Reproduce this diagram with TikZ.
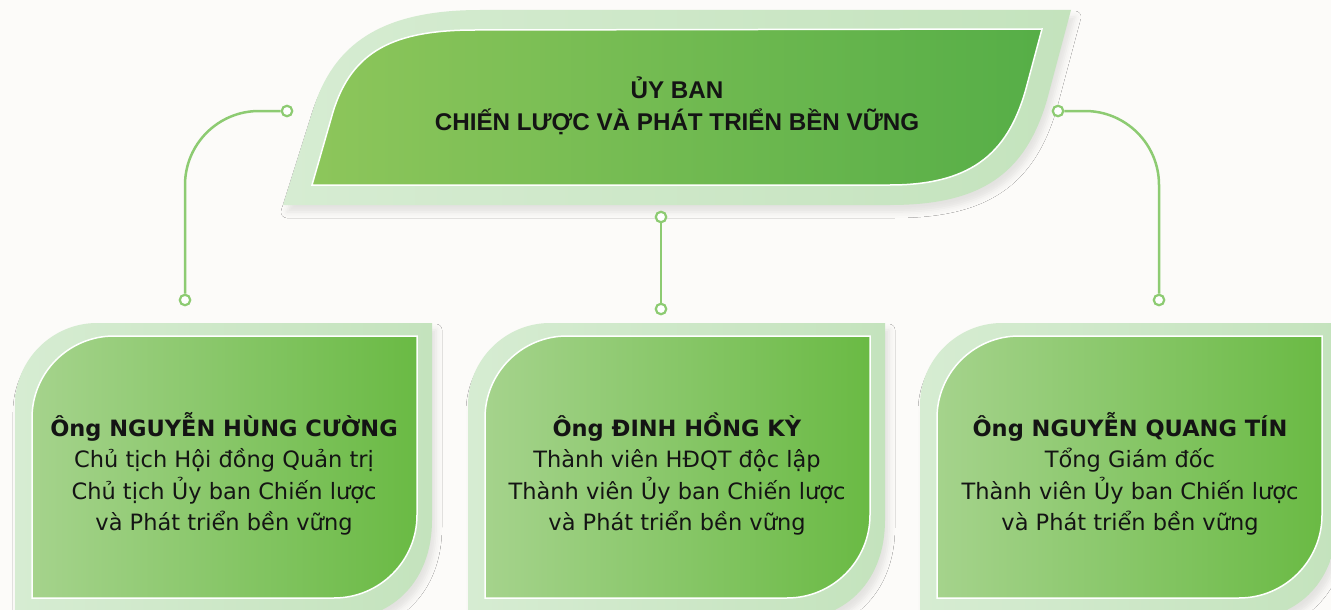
\documentclass[tikz,border=0pt]{standalone}
\usepackage{fontspec}
\setmainfont{DejaVu Sans}
\newfontfamily\titlefont{Liberation Sans}
\usetikzlibrary{shadows.blur}
\definecolor{bg}{HTML}{FCFBF9}
\definecolor{outerL}{HTML}{D6ECD2}
\definecolor{outerR}{HTML}{C4E3BD}
\definecolor{topL}{HTML}{8DC65B}
\definecolor{topR}{HTML}{56AE47}
\definecolor{boxL}{HTML}{A5D38C}
\definecolor{boxR}{HTML}{6ABA44}
\definecolor{conn}{HTML}{8DCB72}
\definecolor{ink}{HTML}{141414}
\tikzset{
  outershape/.style={left color=outerL, right color=outerR,
    blur shadow={shadow xshift=4pt, shadow yshift=-7pt, shadow blur radius=6pt, shadow opacity=10}},
  topinner/.style={left color=topL, right color=topR, draw=white, line width=1.5pt},
  boxinner/.style={left color=boxL, right color=boxR, draw=white, line width=1.5pt},
  dot/.style={circle, draw=conn, fill=white, line width=2.2pt, minimum size=10.5pt, inner sep=0pt},
  connline/.style={draw=conn, line width=2.5pt},
  titletext/.style={align=center, text=ink, font=\titlefont\bfseries\fontsize{24.2}{32}\selectfont},
  boxtext/.style={align=center, text=ink, font=\fontsize{22.5}{31.5}\selectfont}
}
\begin{document}
\begin{tikzpicture}[x=1pt,y=-1pt]
\useasboundingbox (0,0) rectangle (1331,610);
\fill[bg] (0,0) rectangle (1331,610);

% top shape
\path[outershape] (283,205) -- (313,110) .. controls (333,45) and (380,10) .. (480,10)
  -- (1071,10) -- (1047,100) .. controls (1025,175) and (980,205) .. (890,205) -- cycle;
\path[topinner] (312,185) -- (333,112) .. controls (352,50) and (395,30) .. (475,30)
  -- (1042,29) -- (1027,85) .. controls (1010,150) and (975,185) .. (890,185) -- cycle;
\node[titletext] (t) at (677,106) {ỦY BAN\\CHIẾN LƯỢC VÀ PHÁT TRIỂN BỀN VỮNG};

% bottom boxes
\foreach \s in {0,453,905} {
  \begin{scope}[shift={(\s,0)}]
  \path[outershape] (15,620) -- (15,405) .. controls (15,360) and (52,323) .. (97,323)
    -- (432,323) -- (432,520) .. controls (432,575) and (400,615) .. (345,620) -- cycle;
  \path[boxinner] (32,598) -- (32,418) .. controls (32,372.7) and (68.7,336) .. (114,336)
    -- (417,336) -- (417,515) .. controls (417,560.8) and (379.8,598) .. (334,598) -- cycle;
  \end{scope}
}
\node[boxtext] (b1) at (224,474) {\textbf{Ông NGUYỄN HÙNG CƯỜNG}\\Chủ tịch Hội đồng Quản trị\\Chủ tịch Ủy ban Chiến lược\\và Phát triển bền vững};
\node[boxtext] (b2) at (677,474) {\textbf{Ông ĐINH HỒNG KỲ}\\Thành viên HĐQT độc lập\\Thành viên Ủy ban Chiến lược\\và Phát triển bền vững};
\node[boxtext] (b3) at (1130,474) {\textbf{Ông NGUYỄN QUANG TÍN}\\Tổng Giám đốc\\Thành viên Ủy ban Chiến lược\\và Phát triển bền vững};

% connectors
\node[dot] (l1) at (287,111) {};
\node[dot] (l2) at (185,300) {};
\node[dot] (m1) at (661,217) {};
\node[dot] (m2) at (661,309) {};
\node[dot] (r1) at (1058,111) {};
\node[dot] (r2) at (1159,300) {};
\draw[connline, rounded corners=74pt] (l1) -| (l2);
\draw[connline] (m1) -- (m2);
\draw[connline, rounded corners=74pt] (r1) -| (r2);
\end{tikzpicture}
\end{document}
